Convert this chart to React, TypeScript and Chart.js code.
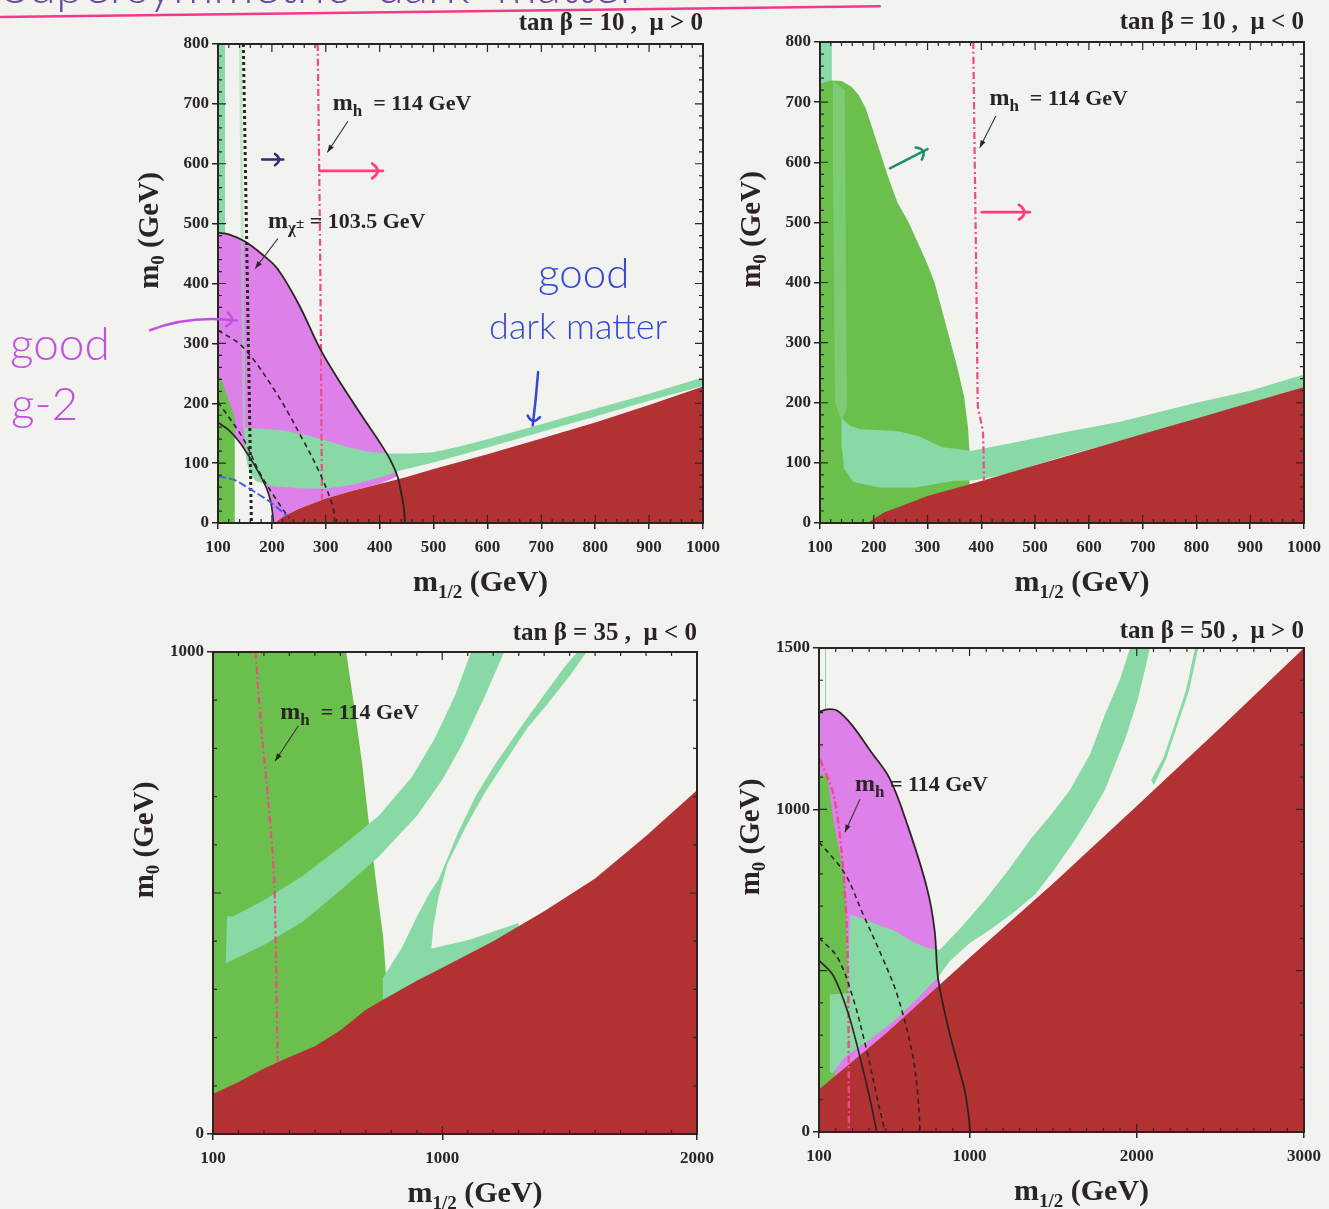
import React, { useEffect, useRef } from 'react';
import { Chart, registerables } from 'chart.js';

Chart.register(...registerables);

type Pt = [number, number];

/* ---------------- tick labels & titles ---------------- */
const X_TICKS_10: number[] = [100, 200, 300, 400, 500, 600, 700, 800, 900, 1000];
const Y_TICKS_10: number[] = [0, 100, 200, 300, 400, 500, 600, 700, 800];
const X_TICKS_35: number[] = [100, 1000, 2000];
const Y_TICKS_35: number[] = [0, 1000];
const X_TICKS_50: number[] = [100, 1000, 2000, 3000];
const Y_TICKS_50: number[] = [0, 1000, 1500];
const TITLES: string[] = ['tan β = 10 ,  μ > 0', 'tan β = 10 ,  μ < 0', 'tan β = 35 ,  μ < 0', 'tan β = 50 ,  μ > 0'];

/* ---------------- panel 1 : tan beta = 10, mu > 0 ---------------- */
const P1_LG_COLUMN: Pt[] = [[100, 0], [113, 0], [113, 800], [100, 800]];
const P1_MAGENTA: Pt[] = [[100, 485], [120, 482], [150, 470], [180, 450], [210, 425], [250, 365], [290, 290], [330, 230], [370, 175], [400, 135], [420, 105], [433, 78], [400, 65], [350, 54], [300, 41], [250, 24], [220, 10], [205, 0], [203, 0], [202, 10], [198, 35], [190, 58], [175, 85], [160, 108], [140, 135], [120, 155], [100, 168]];
const P1_DARK: Pt[] = [[100, 0], [131, 0], [131, 178], [124, 195], [116, 215], [108, 236], [100, 250]];
const P1_LG_THIN: Pt[] = [[139, 800], [144, 800], [151, 160], [146, 160]];
const P1_LG_BAND: Pt[] = [[148, 160], [170, 158], [220, 155], [260, 148], [300, 138], [340, 127], [380, 119], [420, 116], [460, 116], [500, 118], [550, 128], [600, 140], [700, 165], [800, 191], [900, 216], [1000, 243], [1000, 229], [900, 204], [800, 178], [700, 152], [600, 126], [500, 101], [440, 88], [400, 76], [350, 64], [300, 57], [250, 58], [200, 62], [170, 70], [158, 85], [152, 110], [149, 140]];
const P1_RED: Pt[] = [[205, 0], [220, 10], [250, 24], [300, 41], [350, 54], [400, 65], [450, 77], [500, 90], [600, 115], [700, 141], [800, 168], [900, 197], [1000, 228], [1000, 0]];
const P1_HIGGS: Pt[] = [[285, 800], [287, 650], [289, 500], [291, 300], [292, 150], [293, 40]];
const P1_CHARGINO: Pt[] = [[147, 800], [162, 0]];
const P1_DASH_OUTER: Pt[] = [[100, 322], [146, 294], [209, 216], [258, 138], [289, 83], [313, 28], [317, 0]];
const P1_DASH_INNER: Pt[] = [[100, 202], [146, 142], [178, 83], [209, 38], [232, 8]];
const P1_SOLID_OUTER: Pt[] = [[100, 485], [120, 482], [150, 470], [180, 450], [210, 425], [250, 365], [290, 290], [330, 230], [370, 175], [400, 135], [420, 105], [433, 78], [440, 50], [445, 25], [447, 0]];
const P1_SOLID_INNER: Pt[] = [[100, 168], [120, 155], [140, 135], [160, 108], [175, 85], [190, 58], [198, 35], [202, 10], [203, 0]];
const P1_BLUE: Pt[] = [[100, 78], [130, 72], [150, 62], [175, 48], [200, 33], [228, 12]];

/* ---------------- panel 2 : tan beta = 10, mu < 0 ---------------- */
const P2_LG_COLUMN: Pt[] = [[102, 0], [122, 0], [122, 800], [102, 800]];
const P2_DARK: Pt[] = [[100, 0], [378, 0], [378, 120], [375, 160], [368, 210], [355, 260], [340, 310], [325, 360], [313, 400], [300, 430], [285, 460], [265, 500], [244, 533], [225, 580], [203, 641], [185, 690], [172, 712], [158, 726], [140, 735], [120, 736], [104, 732], [100, 728]];
const P2_LG_VERT: Pt[] = [[124, 735], [146, 720], [150, 190], [140, 170], [128, 200], [124, 600]];
const P2_LG_BAND: Pt[] = [[140, 175], [155, 162], [175, 156], [244, 153], [285, 144], [327, 126], [382, 120], [450, 132], [550, 150], [656, 168], [800, 200], [900, 220], [1000, 247], [1000, 226], [900, 198], [800, 172], [656, 136], [550, 110], [450, 82], [388, 71], [347, 70], [278, 59], [210, 59], [162, 68], [145, 90], [140, 130]];
const P2_RED: Pt[] = [[190, 0], [200, 7], [220, 18], [250, 28], [300, 45], [400, 70], [500, 96], [600, 122], [700, 148], [800, 174], [900, 200], [1000, 226], [1000, 0]];
const P2_HIGGS: Pt[] = [[385, 800], [387, 650], [390, 450], [392, 300], [393, 215], [394, 190], [399, 170], [403, 150], [405, 70]];

/* ---------------- panel 3 : tan beta = 35, mu < 0 ---------------- */
const P3_DARK: Pt[] = [[100, 0], [783, 0], [783, 283], [779, 330], [768, 409], [750, 480], [739, 528], [720, 610], [703, 685], [685, 770], [666, 843], [645, 920], [623, 1000], [100, 1000]];
const P3_LG_BAND: Pt[] = [[150, 354], [300, 392], [450, 440], [600, 505], [750, 575], [900, 660], [1000, 735], [1080, 810], [1160, 900], [1243, 1000], [1113, 1000], [1050, 910], [970, 820], [880, 740], [750, 660], [600, 595], [450, 535], [300, 485], [180, 452], [155, 452]];
const P3_LG_V: Pt[] = [[768, 270], [766, 323], [841, 386], [899, 449], [950, 500], [986, 528], [1059, 622], [1131, 701], [1204, 764], [1306, 843], [1393, 906], [1480, 969], [1530, 1000], [1567, 1000], [1500, 950], [1410, 890], [1335, 843], [1250, 775], [1168, 709], [1095, 640], [1020, 560], [985, 490], [965, 430], [957, 385], [1100, 402], [1300, 438], [1300, 420], [1000, 335], [768, 262]];
const P3_RED: Pt[] = [[100, 83], [200, 108], [300, 136], [400, 160], [500, 182], [600, 215], [700, 258], [783, 283], [900, 318], [1000, 345], [1200, 400], [1400, 462], [1600, 530], [1800, 618], [2000, 713], [2000, 0], [100, 0]];
const P3_HIGGS: Pt[] = [[267, 1000], [289, 843], [318, 685], [340, 528], [347, 370], [354, 150]];

/* ---------------- panel 4 : tan beta = 50, mu > 0 ---------------- */
const P4_MAGENTA: Pt[] = [[100, 1302], [150, 1310], [208, 1306], [297, 1261], [410, 1179], [522, 1096], [634, 944], [746, 755], [791, 626], [813, 473], [813, 400], [100, 100]];
const P4_DARK: Pt[] = [[100, 1110], [150, 1100], [190, 950], [230, 850], [255, 760], [265, 600], [272, 430], [255, 330], [220, 250], [195, 180], [185, 100], [100, 100]];
const P4_LG: Pt[] = [[160, 190], [165, 426], [272, 430], [280, 600], [286, 673], [365, 661], [477, 638], [544, 626], [656, 591], [740, 572], [823, 565], [960, 640], [1093, 720], [1230, 810], [1362, 906], [1490, 985], [1601, 1061], [1720, 1170], [1810, 1294], [1900, 1403], [1960, 1500], [2079, 1500], [2007, 1341], [1930, 1217], [1810, 1061], [1720, 980], [1631, 906], [1510, 815], [1392, 736], [1250, 675], [1122, 627], [1000, 585], [883, 530], [813, 480], [700, 420], [550, 345], [400, 285], [300, 250], [250, 230], [180, 180]];
const P4_LG_THIN_LEFT: Pt[] = [[136, 1500], [142, 1500], [142, 1300], [136, 1300]];
const P4_LG_THIN_RIGHT: Pt[] = [[2349, 1500], [2368, 1500], [2312, 1367], [2220, 1226], [2175, 1155], [2102, 1075], [2086, 1090], [2159, 1160], [2203, 1226], [2293, 1367]];
const P4_RED: Pt[] = [[100, 132], [500, 305], [1000, 540], [1500, 770], [2000, 1010], [2500, 1253], [3000, 1500], [3000, 0], [100, 0]];
const P4_HIGGS: Pt[] = [[107, 1155], [185, 1049], [230, 896], [264, 661], [275, 426], [279, 0]];
const P4_DASH_OUTER: Pt[] = [[100, 899], [253, 802], [365, 673], [477, 543], [567, 426], [656, 249], [690, 120], [705, 0]];
const P4_DASH_INNER: Pt[] = [[100, 602], [208, 543], [297, 426], [387, 249], [450, 100], [495, 0]];
const P4_SOLID_OUTER: Pt[] = [[100, 1302], [150, 1310], [208, 1306], [297, 1261], [410, 1179], [522, 1096], [634, 944], [746, 755], [791, 626], [813, 473], [880, 308], [940, 190], [970, 132], [995, 50], [1004, 0]];
const P4_SOLID_INNER: Pt[] = [[100, 532], [185, 485], [275, 367], [365, 190], [410, 90], [445, 0]];

/* ---------------- annotation anchors (data units) ---------------- */
const P1_MH_LABEL: Pt = [313, 690];
const P1_MH_POINTER: Pt[] = [[341, 671], [303, 619]];
const P1_CHI_LABEL: Pt = [193, 492];
const P1_CHI_POINTER: Pt[] = [[211, 475], [169, 425]];
const P2_MH_LABEL: Pt = [415, 695];
const P2_MH_POINTER: Pt[] = [[427, 677], [397, 624]];
const P3_MH_LABEL: Pt = [364, 861];
const P3_MH_POINTER: Pt[] = [[435, 847], [344, 774]];
const P4_MH_LABEL: Pt = [315, 1056];
const P4_MH_POINTER: Pt[] = [[345, 1031], [255, 929]];

const P1_NOTE_G2_ARROW: Pt[] = [[-26, 322], [48, 348], [135, 338]];
const P1_NOTE_CHI_ARROW: Pt[] = [[182, 607], [221, 607]];
const P1_NOTE_MH_ARROW: Pt[] = [[289, 588], [406, 588]];
const P1_NOTE_DM_ARROW: Pt[] = [[694, 252], [690, 205], [684, 163]];
const P1_NOTE_GOOD_G2: Pt = [-286, 272];
const P1_NOTE_G2: Pt = [-284, 172];
const P1_NOTE_GOOD_DM: Pt = [694, 392];
const P1_NOTE_DM: Pt = [603, 308];
const P1_NOTE_TOPLINE: Pt[] = [[-305, 845], [1328, 863]];
const P1_NOTE_TOPTEXT: Pt = [-300, 869];
const P2_NOTE_GREEN_ARROW: Pt[] = [[230, 590], [300, 622]];
const P2_NOTE_MH_ARROW: Pt[] = [[401, 517], [490, 517]];

/* ---------------- styles ---------------- */
const SERIF = '"Liberation Serif", "DejaVu Serif", "Times New Roman", serif';
const HAND = 'Lato, "Noto Sans", "DejaVu Sans", sans-serif';
const INK = '#2b2424';
const RED = '#b23234';
const DARK_GREEN = '#6bbf4c';
const LIGHT_GREEN = '#88d9a5';
const LIGHT_GREEN_SOFT = 'rgba(150,222,172,0.55)';
const LIGHT_GREEN_FAINT = 'rgba(150,222,172,0.42)';
const MAGENTA = '#de80ea';
const HIGGS = '#ee4c86';
const BLUE_LINE = '#4a5fe0';
const BG = '#f2f2ee';

type Layer =
  | { kind: 'fill'; data: Pt[]; color: string }
  | { kind: 'line'; data: Pt[]; color: string; width: number; dash: number[]; tension?: number };

interface AxisSpec { min: number; max: number; step: number; labels: number[]; minor: number; major: number }
interface HandText { text: string; at: Pt; color: string; size: number }
interface HandArrow { pts: Pt[]; color: string; width: number; head: number }
interface PanelSpec {
  box: { left: number; top: number; width: number; height: number };
  padding: { left: number; top: number; right: number; bottom: number };
  x: AxisSpec; y: AxisSpec;
  title: string; titleOffset: number;
  layers: Layer[];
  labels: { at: Pt; sub: string; rest: string; pointer: Pt[] }[];
  arrows: HandArrow[];
  hand: HandText[];
  topLine?: Pt[]; topText?: Pt;
}

const fillL = (data: Pt[], color: string): Layer => ({ kind: 'fill', data, color });
const lineL = (data: Pt[], color: string, width: number, dash: number[], tension = 0.35): Layer => ({ kind: 'line', data, color, width, dash, tension });

const HIGGS_DASH = [7, 3, 2, 3];
const DASHED = [5, 4];

const PANELS: PanelSpec[] = [
  {
    box: { left: 0, top: 0, width: 900, height: 610 },
    padding: { left: 158, top: 44, right: 197, bottom: 27 },
    x: { min: 100, max: 1000, step: 100, labels: X_TICKS_10, minor: 20, major: 100 },
    y: { min: 0, max: 800, step: 100, labels: Y_TICKS_10, minor: 20, major: 100 },
    title: TITLES[0], titleOffset: 14,
    layers: [
      fillL(P1_LG_COLUMN, LIGHT_GREEN),
      fillL(P1_MAGENTA, MAGENTA),
      fillL(P1_DARK, DARK_GREEN),
      fillL(P1_LG_THIN, LIGHT_GREEN_SOFT),
      fillL(P1_LG_BAND, LIGHT_GREEN),
      fillL(P1_RED, RED),
      lineL(P1_HIGGS, HIGGS, 2.2, HIGGS_DASH, 0.2),
      lineL(P1_CHARGINO, INK, 3, [3, 3], 0),
      lineL(P1_DASH_OUTER, INK, 1.6, DASHED),
      lineL(P1_DASH_INNER, INK, 1.6, DASHED),
      lineL(P1_SOLID_OUTER, INK, 1.8, []),
      lineL(P1_SOLID_INNER, INK, 1.6, []),
      lineL(P1_BLUE, BLUE_LINE, 2, [8, 3]),
    ],
    labels: [
      { at: P1_MH_LABEL, sub: 'h', rest: '  = 114 GeV', pointer: P1_MH_POINTER },
      { at: P1_CHI_LABEL, sub: 'χ±', rest: ' = 103.5 GeV', pointer: P1_CHI_POINTER },
    ],
    arrows: [
      { pts: P1_NOTE_G2_ARROW, color: '#c24fe0', width: 2.5, head: 12 },
      { pts: P1_NOTE_CHI_ARROW, color: '#2d2f70', width: 2.5, head: 10 },
      { pts: P1_NOTE_MH_ARROW, color: '#ff3d80', width: 2.8, head: 13 },
      { pts: P1_NOTE_DM_ARROW, color: '#3347d6', width: 2.5, head: 11 },
    ],
    hand: [
      { text: 'good', at: P1_NOTE_GOOD_G2, color: '#c24fe0', size: 46 },
      { text: 'g-2', at: P1_NOTE_G2, color: '#c24fe0', size: 46 },
      { text: 'good', at: P1_NOTE_GOOD_DM, color: '#3347d6', size: 42 },
      { text: 'dark matter', at: P1_NOTE_DM, color: '#3347d6', size: 36 },
    ],
    topLine: P1_NOTE_TOPLINE,
    topText: P1_NOTE_TOPTEXT,
  },
  {
    box: { left: 715, top: 0, width: 614, height: 610 },
    padding: { left: 45, top: 42, right: 24, bottom: 27 },
    x: { min: 100, max: 1000, step: 100, labels: X_TICKS_10, minor: 20, major: 100 },
    y: { min: 0, max: 800, step: 100, labels: Y_TICKS_10, minor: 20, major: 100 },
    title: TITLES[1], titleOffset: 13,
    layers: [
      fillL(P2_LG_COLUMN, LIGHT_GREEN),
      fillL(P2_DARK, DARK_GREEN),
      fillL(P2_LG_VERT, LIGHT_GREEN_FAINT),
      fillL(P2_LG_BAND, LIGHT_GREEN),
      fillL(P2_RED, RED),
      lineL(P2_HIGGS, HIGGS, 2.2, HIGGS_DASH, 0.2),
    ],
    labels: [{ at: P2_MH_LABEL, sub: 'h', rest: '  = 114 GeV', pointer: P2_MH_POINTER }],
    arrows: [
      { pts: P2_NOTE_GREEN_ARROW, color: '#1f8f66', width: 2.5, head: 12 },
      { pts: P2_NOTE_MH_ARROW, color: '#ff3d80', width: 2.8, head: 13 },
    ],
    hand: [],
  },
  {
    box: { left: 0, top: 610, width: 745, height: 599 },
    padding: { left: 153, top: 42, right: 48, bottom: 15 },
    x: { min: 100, max: 2000, step: 100, labels: X_TICKS_35, minor: 100, major: 1000 },
    y: { min: 0, max: 1000, step: 100, labels: Y_TICKS_35, minor: 100, major: 500 },
    title: TITLES[2], titleOffset: 12,
    layers: [
      fillL(P3_DARK, DARK_GREEN),
      fillL(P3_LG_BAND, LIGHT_GREEN),
      fillL(P3_LG_V, LIGHT_GREEN),
      fillL(P3_RED, RED),
      lineL(P3_HIGGS, HIGGS, 2.2, HIGGS_DASH, 0.3),
    ],
    labels: [{ at: P3_MH_LABEL, sub: 'h', rest: '  = 114 GeV', pointer: P3_MH_POINTER }],
    arrows: [],
    hand: [],
  },
  {
    box: { left: 715, top: 610, width: 614, height: 599 },
    padding: { left: 44, top: 38, right: 24, bottom: 17 },
    x: { min: 100, max: 3000, step: 100, labels: X_TICKS_50, minor: 100, major: 1000 },
    y: { min: 0, max: 1500, step: 100, labels: Y_TICKS_50, minor: 100, major: 500 },
    title: TITLES[3], titleOffset: 10,
    layers: [
      fillL(P4_MAGENTA, MAGENTA),
      fillL(P4_DARK, DARK_GREEN),
      fillL(P4_LG, LIGHT_GREEN),
      fillL(P4_LG_THIN_LEFT, LIGHT_GREEN),
      fillL(P4_LG_THIN_RIGHT, LIGHT_GREEN),
      fillL(P4_RED, RED),
      lineL(P4_HIGGS, HIGGS, 2.4, HIGGS_DASH, 0.3),
      lineL(P4_DASH_OUTER, INK, 1.6, DASHED),
      lineL(P4_DASH_INNER, INK, 1.6, DASHED),
      lineL(P4_SOLID_OUTER, INK, 1.8, []),
      lineL(P4_SOLID_INNER, INK, 1.6, []),
    ],
    labels: [{ at: P4_MH_LABEL, sub: 'h', rest: ' = 114 GeV', pointer: P4_MH_POINTER }],
    arrows: [],
    hand: [],
  },
];

/* ---------------- drawing helpers ---------------- */
type Part = { t: string; s: number; dy?: number };

function drawRich(ctx: CanvasRenderingContext2D, x: number, y: number, parts: Part[], align: 'left' | 'center') {
  const widths = parts.map((p) => {
    ctx.font = `bold ${p.s}px ${SERIF}`;
    return ctx.measureText(p.t).width;
  });
  const total = widths.reduce((a, b) => a + b, 0);
  let cx = align === 'center' ? x - total / 2 : x;
  ctx.textAlign = 'left';
  ctx.textBaseline = 'alphabetic';
  parts.forEach((p, i) => {
    ctx.font = `bold ${p.s}px ${SERIF}`;
    ctx.fillText(p.t, cx, y + (p.dy || 0));
    cx += widths[i];
  });
}

function strokePath(ctx: CanvasRenderingContext2D, pts: number[][]) {
  ctx.beginPath();
  ctx.moveTo(pts[0][0], pts[0][1]);
  if (pts.length === 3) ctx.quadraticCurveTo(pts[1][0], pts[1][1], pts[2][0], pts[2][1]);
  else for (let i = 1; i < pts.length; i++) ctx.lineTo(pts[i][0], pts[i][1]);
  ctx.stroke();
}

function headPoints(pts: number[][], size: number, spread: number) {
  const [x1, y1] = pts[pts.length - 2];
  const [x2, y2] = pts[pts.length - 1];
  const ang = Math.atan2(y2 - y1, x2 - x1);
  const a1 = ang + Math.PI - spread;
  const a2 = ang + Math.PI + spread;
  return [
    [x2 + size * Math.cos(a1), y2 + size * Math.sin(a1)],
    [x2, y2],
    [x2 + size * Math.cos(a2), y2 + size * Math.sin(a2)],
  ];
}

function decorPlugin(spec: PanelSpec) {
  return {
    id: 'decor',
    afterDatasetsDraw(chart: any) {
      const ctx: CanvasRenderingContext2D = chart.ctx;
      const { left, right, top, bottom } = chart.chartArea;
      const xs = chart.scales.x;
      const ys = chart.scales.y;
      const P = (p: Pt) => [xs.getPixelForValue(p[0]), ys.getPixelForValue(p[1])];
      ctx.save();

      // frame
      ctx.strokeStyle = INK;
      ctx.lineWidth = 2;
      ctx.strokeRect(left, top, right - left, bottom - top);

      // inward minor / major ticks on all four sides
      ctx.lineWidth = 1.2;
      ctx.beginPath();
      for (let v = spec.x.min; v <= spec.x.max + 1e-6; v += spec.x.minor) {
        const px = xs.getPixelForValue(v);
        const len = Math.abs(v % spec.x.major) < 1e-6 ? 8 : 4;
        ctx.moveTo(px, bottom); ctx.lineTo(px, bottom - len);
        ctx.moveTo(px, top); ctx.lineTo(px, top + len);
      }
      for (let v = spec.y.min; v <= spec.y.max + 1e-6; v += spec.y.minor) {
        const py = ys.getPixelForValue(v);
        const len = Math.abs(v % spec.y.major) < 1e-6 ? 8 : 4;
        ctx.moveTo(left, py); ctx.lineTo(left + len, py);
        ctx.moveTo(right, py); ctx.lineTo(right - len, py);
      }
      ctx.stroke();

      // panel title
      ctx.fillStyle = INK;
      ctx.font = `bold 25px ${SERIF}`;
      ctx.textAlign = 'right';
      ctx.textBaseline = 'alphabetic';
      ctx.fillText(spec.title, right, top - spec.titleOffset);

      // axis titles
      drawRich(ctx, (left + right) / 2 + 20, bottom + 68, [
        { t: 'm', s: 30 }, { t: '1/2', s: 19, dy: 7 }, { t: ' (GeV)', s: 30 },
      ], 'center');
      ctx.save();
      ctx.translate(left - 60, (top + bottom) / 2 - 53);
      ctx.rotate(-Math.PI / 2);
      drawRich(ctx, 0, 0, [{ t: 'm', s: 29 }, { t: '0', s: 19, dy: 6 }, { t: ' (GeV)', s: 29 }], 'center');
      ctx.restore();

      // printed labels with pointer arrows
      for (const lab of spec.labels) {
        const [lx, ly] = P(lab.at);
        ctx.fillStyle = INK;
        const parts: Part[] = lab.sub === 'h'
          ? [{ t: 'm', s: 24 }, { t: 'h', s: 17, dy: 6 }, { t: lab.rest, s: 22 }]
          : [{ t: 'm', s: 24 }, { t: 'χ', s: 17, dy: 5 }, { t: '±', s: 15, dy: 0 }, { t: lab.rest, s: 22 }];
        drawRich(ctx, lx, ly, parts, 'left');
        const pp = lab.pointer.map(P);
        ctx.strokeStyle = '#3a3434';
        ctx.lineWidth = 1.1;
        strokePath(ctx, pp);
        const h = headPoints(pp, 8, 0.35);
        ctx.fillStyle = INK;
        ctx.beginPath();
        ctx.moveTo(h[0][0], h[0][1]); ctx.lineTo(h[1][0], h[1][1]); ctx.lineTo(h[2][0], h[2][1]);
        ctx.closePath();
        ctx.fill();
      }

      ctx.restore();

      // hand-written notes (may extend outside the plot)
      ctx.save();
      ctx.lineCap = 'round';
      ctx.lineJoin = 'round';
      for (const a of spec.arrows) {
        const pp = a.pts.map(P);
        ctx.strokeStyle = a.color;
        ctx.lineWidth = a.width;
        strokePath(ctx, pp);
        strokePath(ctx, headPoints(pp, a.head, 0.6));
      }
      for (const t of spec.hand) {
        const [tx, ty] = P(t.at);
        ctx.fillStyle = t.color;
        ctx.font = `300 ${t.size}px ${HAND}`;
        ctx.textAlign = 'left';
        ctx.textBaseline = 'alphabetic';
        ctx.fillText(t.text, tx, ty);
      }
      if (spec.topText) {
        const [tx, ty] = P(spec.topText);
        ctx.fillStyle = '#6b4aa0';
        ctx.font = `300 50px ${HAND}`;
        ctx.textAlign = 'left';
        ctx.fillText('Supersymmetric  dark  matter', tx, ty);
      }
      if (spec.topLine) {
        const pp = spec.topLine.map(P);
        ctx.strokeStyle = '#f2388a';
        ctx.lineWidth = 2.5;
        strokePath(ctx, pp);
      }
      ctx.restore();
    },
  };
}

function axisConfig(a: AxisSpec, isX: boolean) {
  const labeled = (v: number) => a.labels.some((l) => Math.abs(l - v) < 1e-6);
  return {
    type: 'linear',
    position: isX ? 'bottom' : 'left',
    min: a.min,
    max: a.max,
    afterFit: (s: any) => {
      if (isX) s.height = 60;
      else s.width = 60;
    },
    ticks: {
      stepSize: a.step,
      autoSkip: false,
      maxTicksLimit: 500,
      maxRotation: 0,
      minRotation: 0,
      padding: isX ? 8 : 3,
      color: INK,
      font: { family: SERIF, size: 17, weight: 'bold' },
      callback: (v: any) => (labeled(Number(v)) ? String(v) : ''),
    },
    grid: {
      drawOnChartArea: false,
      drawTicks: true,
      tickLength: 6,
      lineWidth: 1.5,
      color: INK,
      tickColor: (c: any) => (c.tick && labeled(c.tick.value) ? INK : 'rgba(0,0,0,0)'),
    },
    border: { display: true, color: INK, width: 2 },
  };
}

function buildConfig(spec: PanelSpec): any {
  const n = spec.layers.length;
  const datasets = spec.layers.map((L, i) => {
    const common = {
      data: L.data.map(([x, y]) => ({ x, y })),
      showLine: true,
      pointRadius: 0,
      pointHoverRadius: 0,
      pointHitRadius: 0,
      order: n - i,
    };
    if (L.kind === 'fill') {
      return { ...common, fill: 'shape', backgroundColor: L.color, borderColor: 'rgba(0,0,0,0)', borderWidth: 0, tension: 0 };
    }
    return { ...common, fill: false, borderColor: L.color, borderWidth: L.width, borderDash: L.dash, tension: L.tension ?? 0.35, backgroundColor: 'rgba(0,0,0,0)' };
  });
  return {
    type: 'scatter',
    data: { datasets },
    options: {
      animation: false,
      responsive: false,
      maintainAspectRatio: false,
      events: [],
      layout: { padding: spec.padding },
      plugins: { legend: { display: false }, tooltip: { enabled: false }, title: { display: false } },
      scales: { x: axisConfig(spec.x, true), y: axisConfig(spec.y, false) },
    },
    plugins: [decorPlugin(spec)],
  };
}

function Panel({ spec }: { spec: PanelSpec }) {
  const ref = useRef<HTMLCanvasElement>(null);
  useEffect(() => {
    if (!ref.current) return;
    const chart = new Chart(ref.current, buildConfig(spec));
    return () => chart.destroy();
  }, [spec]);
  return (
    <canvas
      ref={ref}
      width={spec.box.width}
      height={spec.box.height}
      style={{ position: 'absolute', left: spec.box.left, top: spec.box.top, width: spec.box.width, height: spec.box.height }}
    />
  );
}

export default function App() {
  useEffect(() => {
    document.body.style.margin = '0';
    document.body.style.background = BG;
  }, []);
  return (
    <div style={{ position: 'absolute', left: 0, top: 0, width: 1329, height: 1209, background: BG, overflow: 'hidden' }}>
      {PANELS.map((p, i) => (
        <Panel key={i} spec={p} />
      ))}
    </div>
  );
}
